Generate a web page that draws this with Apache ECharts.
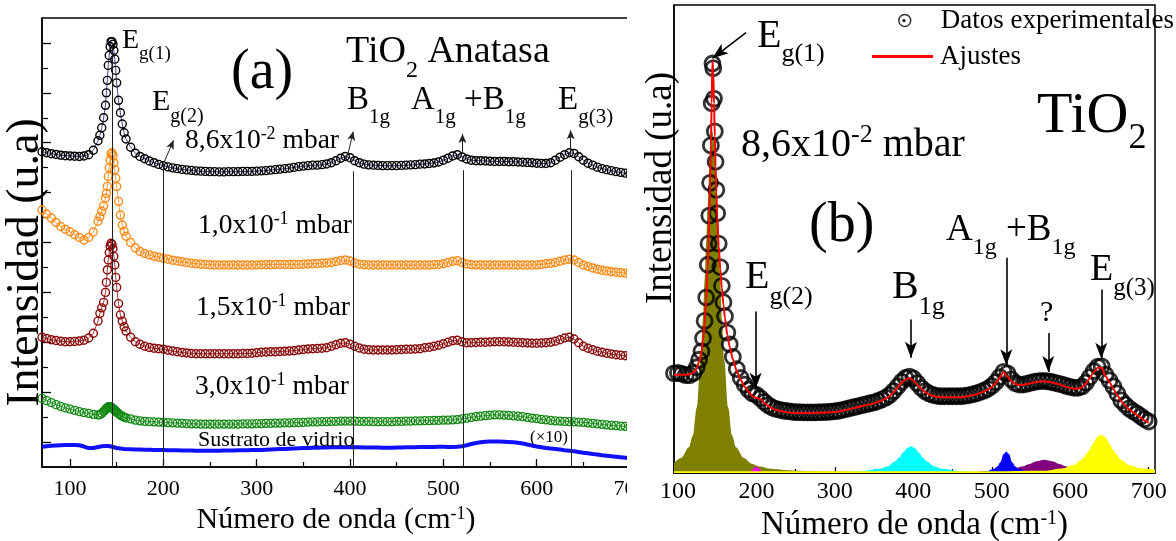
<!DOCTYPE html>
<html><head><meta charset="utf-8">
<script src="https://cdn.jsdelivr.net/npm/echarts@6/dist/echarts.min.js"></script>
<style>html,body{margin:0;padding:0;background:#fff}#c{width:1176px;height:541px}</style>
</head><body><div id="c"></div>
<script>
// ---------------- Panel (a) data ----------------
const wavenumberA = [70,75,80,85,90,95,100,105,110,115,120,125,130,
 132,134,136,138,139,140,141,142,143,144,145,146,147,148,149,150,
 152,154,156,158,160,
 165,170,175,180,185,190,195,200,205,210,
 215,220,225,230,235,240,245,250,255,260,
 265,270,275,280,285,290,295,300,305,310,
 315,320,325,330,335,340,345,350,355,360,
 365,370,375,380,385,390,395,400,405,410,
 415,420,425,430,435,440,445,450,455,460,
 465,470,475,480,485,490,495,500,505,510,
 515,520,525,530,535,540,545,550,555,560,
 565,570,575,580,585,590,595,600,605,610,
 615,620,625,630,635,640,645,650,655,660,
 665,670,675,680,685,690,695,700];
const film086 = [12.64,12.6,12.56,12.53,12.5,12.48,12.47,12.46,12.45,12.47,12.52,12.7,13.08,
 13.3,13.6,14.0,14.5,15.0,15.5,16.1,16.5,16.85,17.05,17.05,16.95,16.7,16.35,15.9,15.4,
 14.7,14.2,13.75,13.4,13.15,
 12.82,12.58,12.45,12.36,12.27,12.2,12.13,12.08,12.03,11.99,
 11.96,11.93,11.91,11.89,11.87,11.86,11.85,11.84,11.84,11.83,
 11.83,11.84,11.84,11.84,11.85,11.85,11.85,11.86,11.87,11.88,
 11.9,11.92,11.94,11.96,11.98,12.01,12.04,12.06,12.08,12.1,
 12.1,12.12,12.15,12.2,12.28,12.38,12.45,12.4,12.28,12.2,
 12.14,12.11,12.1,12.09,12.08,12.08,12.08,12.08,12.09,12.1,
 12.11,12.12,12.14,12.15,12.17,12.19,12.23,12.3,12.38,12.47,
 12.52,12.43,12.35,12.3,12.28,12.28,12.27,12.26,12.25,12.25,
 12.25,12.24,12.24,12.23,12.22,12.21,12.2,12.18,12.17,12.17,
 12.2,12.3,12.42,12.52,12.6,12.57,12.44,12.3,12.18,12.1,
 12.02,11.96,11.92,11.88,11.84,11.81,11.78,11.76];
const film10 = [10.3,10.14,9.98,9.8,9.64,9.53,9.43,9.31,9.2,9.1,9.2,9.42,9.85,
 10.04,10.25,10.46,10.78,10.97,11.25,11.65,12.0,12.3,12.55,12.6,12.48,12.2,11.92,11.58,11.24,
 10.65,10.1,9.7,9.45,9.25,
 9.0,8.78,8.64,8.56,8.5,8.45,8.41,8.37,8.33,8.29,
 8.26,8.23,8.2,8.17,8.15,8.13,8.12,8.11,8.1,8.1,
 8.1,8.1,8.1,8.1,8.1,8.1,8.1,8.1,8.11,8.11,
 8.11,8.12,8.12,8.12,8.12,8.12,8.12,8.13,8.14,8.15,
 8.16,8.17,8.18,8.2,8.24,8.28,8.3,8.26,8.18,8.13,
 8.11,8.1,8.1,8.1,8.1,8.1,8.1,8.1,8.1,8.1,
 8.1,8.1,8.1,8.1,8.1,8.11,8.12,8.15,8.2,8.25,
 8.27,8.2,8.14,8.11,8.1,8.1,8.1,8.1,8.1,8.1,
 8.1,8.1,8.1,8.1,8.1,8.1,8.1,8.1,8.12,8.15,
 8.17,8.2,8.25,8.3,8.33,8.3,8.2,8.1,8.04,7.98,
 7.93,7.89,7.86,7.83,7.81,7.79,7.77,7.76];
const film15 = [5.2,5.15,5.1,5.07,5.04,5.02,5.02,5.03,5.05,5.08,5.17,5.36,5.85,
 6.16,6.38,6.6,7.0,7.4,7.9,8.3,8.6,8.85,8.97,8.92,8.75,8.45,8.1,7.6,7.2,
 6.55,6.1,5.85,5.62,5.45,
 5.2,5.02,4.92,4.84,4.79,4.76,4.74,4.72,4.68,4.65,
 4.62,4.59,4.57,4.55,4.54,4.54,4.54,4.54,4.54,4.54,
 4.54,4.54,4.54,4.54,4.55,4.55,4.56,4.58,4.6,4.61,
 4.62,4.62,4.63,4.64,4.65,4.66,4.69,4.71,4.73,4.74,
 4.75,4.76,4.78,4.84,4.9,4.96,4.98,4.92,4.84,4.77,
 4.72,4.7,4.69,4.69,4.69,4.69,4.69,4.7,4.71,4.72,
 4.72,4.73,4.74,4.78,4.8,4.84,4.88,4.94,5.0,5.06,
 5.08,5.02,4.98,4.98,4.99,5.0,5.0,5.01,5.02,5.02,
 5.02,5.01,5.0,4.99,4.98,4.97,4.96,4.96,4.97,4.98,
 5.0,5.04,5.1,5.17,5.2,5.13,4.98,4.84,4.76,4.7,
 4.64,4.6,4.56,4.53,4.5,4.48,4.46,4.45];
const film30 = [2.75,2.66,2.58,2.5,2.43,2.37,2.32,2.27,2.22,2.18,2.15,2.11,2.09,
 2.1,2.15,2.22,2.3,2.35,2.38,2.41,2.42,2.42,2.4,2.37,2.34,2.31,2.28,2.24,2.2,
 2.14,2.08,2.04,2.0,1.97,
 1.93,1.88,1.85,1.83,1.82,1.81,1.8,1.79,1.78,1.77,
 1.76,1.75,1.74,1.73,1.73,1.72,1.72,1.72,1.72,1.72,
 1.72,1.72,1.72,1.72,1.73,1.73,1.73,1.74,1.74,1.75,
 1.75,1.76,1.76,1.77,1.77,1.78,1.78,1.79,1.8,1.81,
 1.81,1.82,1.82,1.83,1.83,1.84,1.84,1.84,1.84,1.83,
 1.83,1.83,1.82,1.82,1.82,1.82,1.82,1.83,1.83,1.84,
 1.84,1.85,1.85,1.86,1.86,1.87,1.87,1.88,1.88,1.89,
 1.9,1.93,1.96,1.99,2.02,2.04,2.06,2.08,2.09,2.09,
 2.08,2.07,2.05,2.04,2.02,1.99,1.96,1.94,1.91,1.89,
 1.87,1.85,1.84,1.83,1.82,1.81,1.8,1.79,1.77,1.75,
 1.73,1.71,1.69,1.67,1.66,1.64,1.63,1.62];
const substrate = [0.81,0.83,0.85,0.86,0.87,0.88,0.88,0.88,0.87,0.82,0.76,0.76,0.8,
 0.82,0.83,0.84,0.84,0.84,0.84,0.84,0.83,0.83,0.82,0.81,0.8,0.79,0.78,0.77,0.76,
 0.75,0.74,0.73,0.72,0.72,
 0.71,0.7,0.7,0.69,0.69,0.68,0.68,0.68,0.67,0.67,
 0.67,0.66,0.66,0.66,0.65,0.65,0.65,0.65,0.65,0.65,
 0.66,0.66,0.66,0.67,0.67,0.67,0.68,0.68,0.68,0.69,
 0.7,0.71,0.72,0.72,0.73,0.74,0.75,0.76,0.76,0.77,
 0.77,0.78,0.78,0.79,0.79,0.79,0.79,0.79,0.79,0.79,
 0.78,0.78,0.78,0.78,0.77,0.77,0.77,0.78,0.78,0.79,
 0.79,0.79,0.8,0.8,0.8,0.8,0.81,0.81,0.8,0.8,
 0.81,0.83,0.87,0.92,0.96,0.99,1.01,1.02,1.02,1.02,
 1.01,1.0,0.99,0.97,0.94,0.9,0.86,0.82,0.79,0.76,
 0.74,0.72,0.7,0.67,0.65,0.63,0.6,0.57,0.55,0.52,
 0.5,0.47,0.45,0.43,0.41,0.39,0.37,0.35];
const xTickLabels = [100,200,300,400,500,600,700];
const xMinorTicks = [150,250,350,450,550,650];

// ---------------- Panel (b) data ----------------
const wavenumberB = [95,100,105,110,115,120,124,127,130,
 132,134,136,138,
 139,140,141,142,143,144,145,146,147,148,149,150,
 152,154,156,158,160,
 163,166,170,175,180,185,190,195,
 200,205,210,215,220,225,230,235,240,245,
 250,255,260,265,270,275,280,285,290,295,
 300,305,310,315,320,325,330,335,340,345,
 350,355,360,365,370,375,380,385,390,395,
 400,405,410,415,420,425,430,435,440,445,
 450,455,460,465,470,475,480,485,490,495,
 500,505,510,515,520,525,530,535,540,545,
 550,555,560,565,570,575,580,585,590,595,
 600,605,610,615,620,625,630,635,640,645,
 650,655,660,665,670,675,680,685,690,695,
 700];
const experimentalB = [21.3,21.4,21.2,20.9,20.9,21.4,22.6,24.2,26.0,
 28.8,32.5,37.5,44.5,
 49,55,62,70,79,87.5,86.5,80,73,66.5,60.5,55.5,
 49,44,40,36.5,33.5,
 30,27.5,24.8,22.2,20.3,18.9,17.8,17.0,
 16.7,16.0,15.2,14.5,14.0,13.7,13.5,13.3,13.2,13.1,
 13.0,13.0,12.95,12.95,12.95,12.95,13.0,13.0,13.05,13.1,
 13.2,13.3,13.5,13.7,13.9,14.1,14.3,14.5,14.7,14.9,
 15.1,15.4,15.7,16.1,16.7,17.5,18.5,19.5,20.3,20.6,
 20.2,19.2,18.2,17.5,17.0,16.7,16.5,16.4,16.4,16.4,
 16.4,16.4,16.4,16.5,16.6,16.8,17.0,17.3,17.6,18.0,
 18.6,19.4,20.5,21.6,21.3,20.0,19.2,18.9,18.9,19.1,
 19.3,19.5,19.6,19.7,19.6,19.5,19.3,19.1,18.9,18.6,
 18.4,18.2,18.2,18.5,19.3,20.5,21.8,22.7,22.8,21.0,
 19.8,18.5,17.0,15.5,14.6,13.8,13.2,12.7,12.1,11.5,
 11.0];
const fitB = [21.0,21.0,21.0,21.0,21.1,21.5,22.4,23.8,25.8,
 28.5,32.0,37.0,44.0,
 49,55,62,70,79,88,86,79,72,65.5,60,55,
 48.5,43.5,39.5,36,33,
 29.5,27,24.3,21.8,19.9,18.4,17.4,16.4,
 16.0,15.8,15.0,14.3,13.8,13.5,13.3,13.1,13.0,12.9,
 12.85,12.8,12.8,12.8,12.8,12.85,12.85,12.9,12.95,13.0,
 13.05,13.15,13.3,13.5,13.7,13.9,14.1,14.3,14.5,14.7,
 14.9,15.2,15.5,15.9,16.5,17.3,18.3,19.3,20.0,20.3,
 19.8,18.9,18.0,17.3,16.8,16.5,16.3,16.2,16.2,16.2,
 16.2,16.2,16.2,16.3,16.4,16.6,16.8,17.1,17.4,17.8,
 18.4,19.2,20.3,21.6,20.6,19.6,19.0,18.8,18.8,19.0,
 19.2,19.4,19.5,19.6,19.5,19.4,19.2,19.0,18.7,18.4,
 18.2,18.0,18.0,18.3,19.1,20.3,21.6,22.5,22.5,20.7,
 19.4,18.0,16.6,15.3,14.4,13.6,13.0,12.4,11.8,11.2,
 10.7];
// fitted components (peak shapes read from the filled areas)
const eg1X = [95,104,114,119,124,129,132,134,136,138,140,142,144,146,148,150,152,154,156,159,164,169,174,184,194,204,219,240,270,300,350,400];
const eg1Y = [2.1,3.2,5.5,8,14,24,33,41,49,57,65,71,73,71,65,57,49,41,33,24,14,8,5.5,3.2,2,1.4,0.9,0.6,0.4,0.3,0.2,0.1];
const eg2X = [190,194,197,200,203,206,210];
const eg2Y = [0.1,0.5,1.0,1.4,1.0,0.5,0.1];
const b1gX = [317,337,357,367,377,382,387,392,397,402,407,412,417,427,437,457,477];
const b1gY = [0.25,0.45,0.9,1.4,2.5,3.3,4.4,5.3,5.7,5.3,4.4,3.3,2.5,1.4,0.9,0.45,0.25];
const a1gX = [484,495,503,507,511,515,518.5,522,526,530,534,542,553];
const a1gY = [0.2,0.45,0.9,1.4,2.3,4.0,4.6,4.0,2.3,1.4,0.9,0.45,0.2];
const unkX = [477,507,527,540,547,557,567,577,587,594,607,627,657];
const unkY = [0.25,0.5,0.9,1.42,1.85,2.5,2.84,2.5,1.85,1.42,0.9,0.5,0.25];
const eg3X = [95,300,500,569,589,604,614,621,624,629,634,639.5,645,650,655,658,665,675,690,708];
const eg3Y = [0.35,0.35,0.4,0.5,0.95,1.7,2.8,4.1,4.9,6.3,7.6,8.2,7.6,6.3,4.9,4.1,2.8,1.7,0.95,0.7];

// ---------------- helpers ----------------
const SERIF = '"Liberation Serif", "Times New Roman", serif';
const zip = (xs, ys) => xs.map((x, i) => [x, ys[i]]);
const mctx = document.createElement('canvas').getContext('2d');
function measure(t, s){ mctx.font = s + 'px ' + SERIF; return mctx.measureText(t).width; }
function textRun(x, y, parts){
  const out = []; let cx = x;
  parts.forEach(([t, s, dy]) => {
    out.push({type:'text', x:cx, y:y+dy, z:100, silent:true,
      style:{text:t, fontSize:s, fontFamily:SERIF, fill:'#000', align:'left', verticalAlign:'middle', textAlign:'left', textVerticalAlign:'middle'}});
    cx += measure(t, s);
  });
  return out;
}
const annotations = [
  // panel (a)
  [122, 41, [['E',28,0],['g(1)',19,13]]],
  [231, 73, [['(a)',56,0]]],
  [346, 52, [['TiO',38,0],['2',24,19],[' Anatasa',38,0]]],
  [152, 102, [['E',30,0],['g(2)',20,15]]],
  [185, 141, [['8,6x10',27.5,0],['-2',18,-7],[' mbar',27.5,0]]],
  [198, 226, [['1,0x10',27.5,0],['-1',18,-7],[' mbar',27.5,0]]],
  [196, 308, [['1,5x10',27.5,0],['-1',18,-7],[' mbar',27.5,0]]],
  [195, 387, [['3,0x10',27.5,0],['-1',18,-7],[' mbar',27.5,0]]],
  [198, 440, [['Sustrato de vidrio',22,0]]],
  [530, 438, [['(\u00d710)',17,0]]],
  [347, 100, [['B',33,0],['1g',21,17]]],
  [411, 100, [['A',33,0],['1g',21,17],[' +B',33,0],['1g',21,17]]],
  [558, 100, [['E',33,0],['g(3)',21,17]]],
  // panel (b)
  [757, 36, [['E',40,0],['g(1)',26,18]]],
  [741, 145, [['8,6x10',40,0],['-2',26,-10],[' mbar',40,0]]],
  [1037, 117, [['TiO',58,0],['2',36,22]]],
  [809, 226, [['(b)',56,0]]],
  [946, 230, [['A',37,0],['1g',24,18],[' +B',37,0],['1g',24,18]]],
  [745, 277, [['E',40,0],['g(2)',26,20]]],
  [892, 287, [['B',40,0],['1g',26,20]]],
  [1040, 313, [['?',30,0]]],
  [1090, 270, [['E',38,0],['g(3)',25,18]]]
];
const graphics = [];
annotations.forEach(([x, y, parts]) => graphics.push(...textRun(x, y, parts)));
// y-axis title of panel (b)
graphics.push({type:'text', x:661, y:188, rotation:Math.PI/2, z:100, silent:true,
  style:{text:'Intensidad (u.a)', fontSize:37, fontFamily:SERIF, fill:'#000', align:'center', verticalAlign:'middle', textAlign:'center', textVerticalAlign:'middle'}});
// crop of panel (a) at its right edge, as in the original figure
graphics.push({type:'rect', z:90, silent:true, shape:{x:627, y:0, width:19, height:541}, style:{fill:'#fff'}});
// dot inside legend ring
graphics.push({type:'circle', z:100, silent:true, shape:{cx:904, cy:20.5, r:1.6}, style:{fill:'#000'}});

const lineSeg = (x1, y1, x2, y2, arrow) => [
  {coord:[x1, y1], symbol:'none'},
  {coord:[x2, y2], symbol: arrow ? 'arrow' : 'none'}
];

const axisFont = {fontFamily:SERIF, color:'#000'};
const nameRich = (n, s) => ({ n:{fontFamily:SERIF, fontSize:n, color:'#000', verticalAlign:'bottom'}, s:{fontFamily:SERIF, fontSize:s, color:'#000', verticalAlign:'top'} });

function filmSeries(name, values, color, lineColor){
  return {type:'line', name, xAxisIndex:0, yAxisIndex:0, data: zip(wavenumberA, values),
    symbol:'circle', symbolSize:8, showAllSymbol:true,
    itemStyle:{color:'rgba(0,0,0,0)', borderColor:color, borderWidth:1.4},
    lineStyle:{color:lineColor || color, width:0.8}, emphasis:{disabled:true}, z:3};
}
function compSeries(name, xs, ys, color, z){
  return {type:'line', name, xAxisIndex:2, yAxisIndex:2, data: zip(xs, ys), symbol:'none',
    smooth:0.35, smoothMonotone:'x', lineStyle:{width:0}, areaStyle:{color, opacity:1},
    emphasis:{disabled:true}, z};
}

const blackSeries = filmSeries('8,6x10-2 mbar', film086, '#000000', '#1a1a80');
blackSeries.markLine = {
  silent:true, animation:false, symbol:['none','none'], symbolSize:[6,9],
  label:{show:false}, lineStyle:{color:'#222', width:1, type:'solid'},
  data:[
    lineSeg(145, 17.0, 145, 0),
    lineSeg(200, 12.15, 200, 0),
    lineSeg(404, 11.85, 404, 0),
    lineSeg(521, 11.9, 521, 0),
    lineSeg(637, 11.9, 637, 0),
    lineSeg(200, 12.15, 211, 13.1, true),
    lineSeg(397.5, 12.5, 403.5, 13.45, true),
    lineSeg(520.5, 12.6, 520.5, 13.35, true),
    lineSeg(636.5, 12.7, 636.5, 13.5, true)
  ]
};

const fitSeries = {type:'line', name:'Ajustes', xAxisIndex:2, yAxisIndex:2, data: zip(wavenumberB, fitB),
  symbol:'none', smooth:0.3, smoothMonotone:'x', lineStyle:{color:'#ff0000', width:2}, itemStyle:{color:'#ff0000'},
  emphasis:{disabled:true}, z:5,
  markLine:{silent:true, animation:false, symbol:['none','none'], symbolSize:[9,16], label:{show:false},
    lineStyle:{color:'#000', width:1.6, type:'solid'},
    data:[
      lineSeg(186.7, 94.1, 144, 88.6, true),
      lineSeg(199, 34.5, 199, 18.0, true),
      lineSeg(397, 32.8, 397, 24.6, true),
      lineSeg(518.5, 46, 518.5, 23.0, true),
      lineSeg(572, 29.9, 572, 21.6, true),
      lineSeg(639.5, 39.2, 639.5, 24.4, true)
    ]}
};

const option = {
  animation:false,
  backgroundColor:'#ffffff',
  textStyle:{fontFamily:SERIF},
  grid:[
    {left:42, top:18, width:588, height:449, show:true, borderColor:'#000', borderWidth:1.5, backgroundColor:'rgba(0,0,0,0)', containLabel:false, outerBoundsMode:'none'},
    {left:674, top:5, width:481, height:468, show:true, borderColor:'#000', borderWidth:1.5, backgroundColor:'rgba(0,0,0,0)', containLabel:false, outerBoundsMode:'none'}
  ],
  legend:[
    {left:893, top:2, itemWidth:12, itemHeight:12, selectedMode:false,
     data:[{name:'Datos experimentales', icon:'circle', itemStyle:{color:'#fff', borderColor:'#000', borderWidth:1.5}}],
     textStyle:{fontFamily:SERIF, fontSize:27, color:'#000', lineHeight:27, padding:[0,0,0,25]}},
    {left:867, top:38, itemWidth:61, itemHeight:3, selectedMode:false,
     data:[{name:'Ajustes', icon:'rect', itemStyle:{color:'#ff0000'}}],
     textStyle:{fontFamily:SERIF, fontSize:27, color:'#000', lineHeight:27, padding:[0,0,0,2]}}
  ],
  xAxis:[
    {gridIndex:0, type:'value', min:70, max:700, position:'bottom',
     axisLine:{onZero:false, lineStyle:{color:'#000', width:1.5}},
     axisTick:{inside:true, length:8, customValues:xTickLabels, lineStyle:{color:'#000', width:1.3}},
     axisLabel:{customValues:xTickLabels, fontSize:22, margin:11, ...axisFont},
     splitLine:{show:false},
     name:'{n|Número de onda (cm}{s|-1}{n|)}', nameLocation:'middle', nameGap:29,
     nameTextStyle:{rich:nameRich(30, 18)}},
    {gridIndex:0, type:'value', min:70, max:700, position:'bottom',
     axisLine:{show:false}, axisLabel:{show:false}, splitLine:{show:false},
     axisTick:{inside:true, length:5, customValues:xMinorTicks, lineStyle:{color:'#000', width:1.2}}},
    {gridIndex:1, type:'value', min:95, max:708, position:'bottom',
     axisLine:{onZero:false, lineStyle:{color:'#000', width:1.5}},
     axisTick:{inside:true, length:6, customValues:xTickLabels, lineStyle:{color:'#000', width:1.3}},
     axisLabel:{customValues:xTickLabels, fontSize:24, margin:7, ...axisFont},
     splitLine:{show:false},
     name:'{n|Número de onda (cm}{s|-1}{n|)}', nameLocation:'middle', nameGap:31,
     nameTextStyle:{rich:nameRich(33, 20)}},
    {gridIndex:1, type:'value', min:95, max:708, position:'bottom',
     axisLine:{show:false}, axisLabel:{show:false}, splitLine:{show:false},
     axisTick:{inside:true, length:4, customValues:xMinorTicks, lineStyle:{color:'#000', width:1.2}}}
  ],
  yAxis:[
    {gridIndex:0, type:'value', min:0, max:18, position:'left',
     axisLine:{onZero:false, lineStyle:{color:'#000', width:1.5}},
     axisTick:{inside:true, length:9, customValues:[1,3,5,7,9,11,13,15,17], lineStyle:{color:'#000', width:1.3}},
     axisLabel:{show:false}, splitLine:{show:false},
     name:'Intensidad (u.a)', nameLocation:'middle', nameRotate:90, nameGap:-7,
     nameTextStyle:{fontFamily:SERIF, fontSize:46, color:'#000', padding:[0,40,0,0]}},
    {gridIndex:0, type:'value', min:0, max:18, position:'left',
     axisLine:{show:false}, axisLabel:{show:false}, splitLine:{show:false},
     axisTick:{inside:true, length:6, customValues:[2,4,6,8,10,12,14,16], lineStyle:{color:'#000', width:1.2}}},
    {gridIndex:1, type:'value', min:0, max:100, position:'left',
     axisLine:{onZero:false, lineStyle:{color:'#000', width:1.5}},
     axisTick:{show:false}, axisLabel:{show:false}, splitLine:{show:false}}
  ],
  series:[
    {type:'line', name:'Sustrato de vidrio (x10)', xAxisIndex:0, yAxisIndex:0, data: zip(wavenumberA, substrate),
     symbol:'none', lineStyle:{color:'#1010ff', width:4}, emphasis:{disabled:true}, z:2},
    filmSeries('3,0x10-1 mbar', film30, '#138a13'),
    filmSeries('1,5x10-1 mbar', film15, '#8b0a0a'),
    filmSeries('1,0x10-1 mbar', film10, '#ff8c1a'),
    blackSeries,
    compSeries('Eg(1)', eg1X, eg1Y, '#808000', 1),
    compSeries('Eg(2)', eg2X, eg2Y, '#ff00ff', 1),
    compSeries('B1g', b1gX, b1gY, '#00ffff', 1),
    compSeries('?', unkX, unkY, '#800080', 1),
    compSeries('A1g', a1gX, a1gY, '#0000ff', 1),
    compSeries('Eg(3)', eg3X, eg3Y, '#ffff00', 2),
    {type:'scatter', name:'Datos experimentales', xAxisIndex:2, yAxisIndex:2, data: zip(wavenumberB, experimentalB),
     symbol:'circle', symbolSize:15, itemStyle:{color:'rgba(0,0,0,0)', borderColor:'#000', borderWidth:2.8},
     emphasis:{disabled:true}, z:3},
    fitSeries
  ],
  graphic: graphics
};
const chart = echarts.init(document.getElementById('c'), null, {renderer:'canvas'});
chart.setOption(option);
</script></body></html>
